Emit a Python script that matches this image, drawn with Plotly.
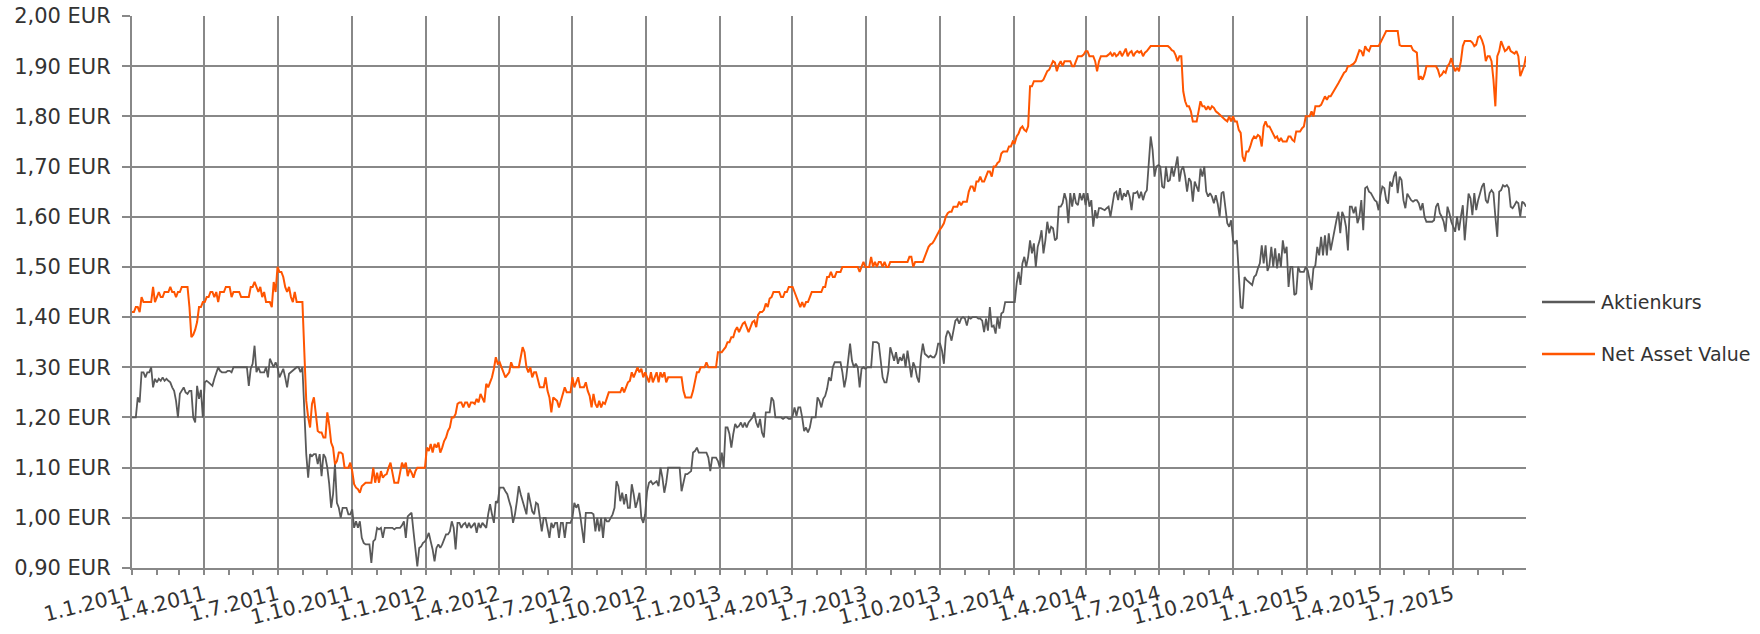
import pandas as pd
import plotly.graph_objects as go

start_date = "2011-01-01"
end_date = "2015-09-30"

# Net Asset Value (EUR) at an even time step
nav_2011_2012 = [
    1.41, 1.41, 1.42, 1.42, 1.41, 1.44, 1.43, 1.43, 1.43, 1.43, 1.43, 1.46, 1.43, 1.44, 1.45, 1.44, 1.44, 1.45, 1.45, 1.45,
    1.46, 1.45, 1.45, 1.44, 1.45, 1.45, 1.46, 1.46, 1.46, 1.46,
    1.42, 1.36, 1.365, 1.375, 1.39, 1.42, 1.42, 1.43, 1.43, 1.44,
    1.44, 1.45, 1.45, 1.44, 1.45, 1.43, 1.45, 1.45, 1.45, 1.46,
    1.46, 1.46, 1.44, 1.45, 1.45, 1.45, 1.45, 1.44, 1.44, 1.44,
    1.44, 1.44, 1.46, 1.46, 1.47, 1.46, 1.45, 1.46, 1.44, 1.45,
    1.43, 1.43, 1.43, 1.42, 1.47, 1.45, 1.50, 1.49, 1.49, 1.48,
    1.46, 1.45, 1.46, 1.44, 1.43, 1.45, 1.43, 1.43, 1.43, 1.43,
    1.33, 1.233, 1.20, 1.18, 1.227, 1.24, 1.207, 1.173, 1.17, 1.17,
    1.16, 1.16, 1.21, 1.185, 1.15, 1.14, 1.107, 1.113, 1.13, 1.13,
    1.127, 1.10, 1.10, 1.10, 1.11, 1.093, 1.067, 1.06, 1.057, 1.05,
    1.063, 1.067, 1.07, 1.07, 1.07, 1.07, 1.10, 1.07, 1.09, 1.07,
    1.093, 1.08, 1.085, 1.087, 1.10, 1.11, 1.09, 1.07, 1.07, 1.07,
    1.09, 1.11, 1.10, 1.11, 1.083, 1.097, 1.09, 1.08, 1.093, 1.10,
    1.10, 1.10, 1.10, 1.10, 1.14, 1.133, 1.147, 1.13, 1.147, 1.14,
    1.15, 1.13, 1.14, 1.153, 1.16, 1.173, 1.18, 1.20, 1.20, 1.207,
    1.227, 1.23, 1.23, 1.22, 1.23, 1.23, 1.22, 1.23, 1.23, 1.227,
    1.237, 1.23, 1.247, 1.237, 1.23, 1.267, 1.26, 1.27, 1.28, 1.297,
    1.32, 1.307, 1.31, 1.30, 1.29, 1.28, 1.285, 1.29, 1.31, 1.30,
    1.30, 1.30, 1.30, 1.32, 1.34, 1.33, 1.30, 1.29, 1.30, 1.28,
    1.29, 1.29, 1.275, 1.26, 1.26, 1.26, 1.28, 1.253, 1.24, 1.21,
    1.24, 1.237, 1.233, 1.22, 1.233, 1.25, 1.26, 1.25, 1.25, 1.25,
    1.28, 1.26, 1.27, 1.28,
]
nav_2012_2014 = [
    1.26, 1.26, 1.26, 1.27, 1.253, 1.243, 1.22, 1.247, 1.227, 1.22,
    1.233, 1.22, 1.23, 1.227, 1.24, 1.25, 1.25, 1.25, 1.25, 1.25,
    1.25, 1.25, 1.26, 1.25, 1.26, 1.27, 1.273, 1.29, 1.28, 1.29,
    1.30, 1.29, 1.297, 1.28, 1.29, 1.28, 1.27, 1.29, 1.27, 1.28,
    1.29, 1.27, 1.29, 1.28, 1.29, 1.27, 1.28, 1.28, 1.28, 1.28,
    1.28, 1.28, 1.28, 1.28, 1.253, 1.24, 1.24, 1.24, 1.24, 1.253,
    1.27, 1.29, 1.29, 1.30, 1.30, 1.30, 1.31, 1.30, 1.30, 1.30,
    1.30, 1.30, 1.33, 1.33, 1.33, 1.335, 1.34, 1.35, 1.35, 1.36,
    1.36, 1.373, 1.38, 1.37, 1.38, 1.387, 1.39, 1.38, 1.37, 1.38,
    1.39, 1.393, 1.38, 1.405, 1.41, 1.41, 1.414, 1.427, 1.42, 1.437,
    1.44, 1.45, 1.45, 1.45, 1.45, 1.44, 1.44, 1.45, 1.45, 1.46,
    1.46, 1.46, 1.45, 1.44, 1.43, 1.42, 1.43, 1.42, 1.43, 1.43,
    1.44, 1.45, 1.45, 1.45, 1.45, 1.45, 1.45, 1.46, 1.46, 1.48,
    1.48, 1.49, 1.48, 1.48, 1.49, 1.49, 1.49, 1.50, 1.50, 1.50,
    1.50, 1.50, 1.50, 1.50, 1.50, 1.50, 1.49, 1.50, 1.51, 1.50,
    1.50, 1.50, 1.52, 1.50, 1.51, 1.50, 1.51, 1.51, 1.50, 1.51,
    1.50, 1.50, 1.51, 1.51, 1.51, 1.51, 1.51, 1.51, 1.51, 1.51,
    1.51, 1.51, 1.52, 1.52, 1.50, 1.51, 1.51, 1.51, 1.51, 1.51,
    1.52, 1.53, 1.54, 1.545, 1.547, 1.553, 1.56, 1.57, 1.575, 1.58,
    1.587, 1.60, 1.607, 1.61, 1.61, 1.62, 1.62, 1.62, 1.63, 1.623,
    1.63, 1.63, 1.63, 1.65, 1.66, 1.66, 1.65, 1.67, 1.67, 1.68,
    1.67, 1.67, 1.68, 1.69, 1.69, 1.68, 1.70, 1.70, 1.707, 1.71,
    1.726, 1.73, 1.73, 1.73, 1.74, 1.74, 1.75, 1.747, 1.76, 1.766,
    1.776, 1.78, 1.773, 1.77, 1.78, 1.86, 1.86, 1.87, 1.87, 1.87,
    1.87, 1.87, 1.873, 1.88, 1.89, 1.893, 1.90, 1.91, 1.907, 1.89,
    1.903, 1.91, 1.90, 1.91, 1.91, 1.91, 1.91, 1.90, 1.90, 1.91,
    1.92, 1.92, 1.92, 1.923, 1.93, 1.93, 1.92, 1.92, 1.92, 1.91,
    1.89, 1.91, 1.92, 1.92, 1.92, 1.92, 1.923, 1.927, 1.92, 1.927,
    1.92, 1.923, 1.93, 1.92, 1.927, 1.935, 1.92, 1.927, 1.93, 1.92,
    1.927, 1.93, 1.927, 1.93, 1.92, 1.927, 1.93, 1.935, 1.94, 1.94,
    1.94, 1.94, 1.94,
]
nav_2014_2015 = [
    1.94, 1.94, 1.94, 1.94, 1.94, 1.937, 1.932, 1.93, 1.922, 1.91,
    1.92, 1.92, 1.85, 1.83, 1.82, 1.82, 1.81, 1.79, 1.79, 1.79,
    1.81, 1.83, 1.82, 1.82, 1.813, 1.82, 1.813, 1.82, 1.817, 1.81,
    1.807, 1.803, 1.80, 1.797, 1.793, 1.79, 1.80, 1.79, 1.80, 1.79,
    1.79, 1.773, 1.767, 1.72, 1.71, 1.73, 1.73, 1.74, 1.753, 1.76,
    1.757, 1.763, 1.76, 1.74, 1.78, 1.79, 1.78, 1.78, 1.773, 1.767,
    1.757, 1.76, 1.75, 1.757, 1.75, 1.75, 1.75, 1.76, 1.76, 1.753,
    1.75, 1.77, 1.77, 1.77, 1.776, 1.78, 1.80, 1.80, 1.80, 1.81,
    1.80, 1.82, 1.82, 1.82, 1.823, 1.83, 1.84, 1.833, 1.84, 1.84,
    1.846, 1.853, 1.86, 1.866, 1.873, 1.88, 1.887, 1.89, 1.90, 1.90,
    1.903, 1.905, 1.91, 1.92, 1.932, 1.93, 1.92, 1.94, 1.933, 1.93,
    1.94, 1.94, 1.94, 1.94, 1.94, 1.947, 1.955, 1.96, 1.97, 1.97,
    1.97, 1.97, 1.97, 1.97, 1.97, 1.942, 1.94, 1.94, 1.94, 1.94,
    1.94, 1.94, 1.932, 1.93, 1.927, 1.873, 1.88, 1.873, 1.883, 1.90,
    1.90, 1.90, 1.90, 1.90, 1.90, 1.893, 1.88, 1.883, 1.89, 1.887,
    1.90, 1.905, 1.916, 1.90, 1.89, 1.897, 1.89, 1.91, 1.94, 1.95,
    1.95, 1.95, 1.95, 1.947, 1.94, 1.943, 1.958, 1.96, 1.952, 1.94,
    1.91, 1.92, 1.92, 1.91, 1.873, 1.82, 1.92, 1.93, 1.95, 1.94,
    1.93, 1.933, 1.94, 1.93, 1.927, 1.925, 1.93, 1.92, 1.88, 1.89,
    1.90, 1.92,
]

# Aktienkurs (EUR), same time step
kurs_2011_2012 = [
    1.20, 1.20, 1.20, 1.24, 1.23, 1.29, 1.29, 1.28, 1.29, 1.29,
    1.30, 1.26, 1.277, 1.27, 1.277, 1.273, 1.28, 1.273, 1.277, 1.273,
    1.27, 1.26, 1.253, 1.233, 1.20, 1.247, 1.253, 1.26, 1.25, 1.247,
    1.253, 1.253, 1.20, 1.19, 1.263, 1.237, 1.255, 1.20, 1.27, 1.273,
    1.27, 1.267, 1.263, 1.277, 1.29, 1.30, 1.293, 1.29, 1.29, 1.29,
    1.293, 1.293, 1.29, 1.30, 1.30, 1.30, 1.30, 1.30, 1.30, 1.30,
    1.30, 1.263, 1.297, 1.307, 1.343, 1.29, 1.30, 1.29, 1.29, 1.29,
    1.30, 1.28, 1.317, 1.31, 1.30, 1.31, 1.30, 1.28, 1.29, 1.297,
    1.28, 1.26, 1.287, 1.29, 1.293, 1.297, 1.30, 1.30, 1.29, 1.30,
    1.213, 1.127, 1.08, 1.127, 1.123, 1.127, 1.127, 1.107, 1.127, 1.083,
    1.127, 1.12, 1.10, 1.067, 1.02, 1.047, 1.107, 1.03, 1.02, 1.00,
    1.02, 1.02, 1.02, 1.007, 1.007, 1.017, 0.98, 0.993, 0.98, 0.993,
    0.96, 0.95, 0.947, 0.947, 0.947, 0.91, 0.953, 0.957, 0.98, 0.977,
    0.98, 0.96, 0.98, 0.98, 0.98, 0.98, 0.98, 0.977, 0.98, 0.98,
    0.98, 0.985, 0.993, 0.96, 1.003, 1.007, 1.01, 0.973, 0.94, 0.903,
    0.94, 0.943, 0.95, 0.953, 0.96, 0.97, 0.953, 0.937, 0.913, 0.94,
    0.947, 0.94, 0.947, 0.957, 0.967, 0.967, 0.973, 0.993, 0.98, 0.937,
    0.99, 0.99, 0.98, 0.987, 0.99, 0.98, 0.99, 0.98, 0.985, 0.99,
    0.97, 0.99, 0.98, 0.99, 0.985, 0.98, 1.007, 1.027, 1.007, 0.99,
    1.033, 1.03, 1.06, 1.06, 1.06, 1.053, 1.047, 1.033, 1.02, 0.99,
    1.007, 1.033, 1.063, 1.047, 1.033, 1.02, 1.007, 1.05, 1.03, 1.013,
    1.007, 1.03, 1.027, 1.00, 0.973, 1.00, 1.00, 0.98, 0.96, 0.99,
    0.98, 0.99, 0.99, 0.96, 0.99, 0.99, 0.96, 0.99, 0.99, 0.99,
    1.00, 1.03, 1.02, 1.027,
]
kurs_2012_2014 = [
    1.007, 0.98, 0.95, 1.01, 1.01, 1.01, 1.01, 1.007, 0.973, 1.00,
    0.973, 1.00, 0.96, 1.00, 0.993, 0.993, 1.00, 1.007, 1.02, 1.073,
    1.063, 1.033, 1.05, 1.027, 1.047, 1.02, 1.02, 1.067, 1.047, 1.02,
    1.033, 1.05, 1.00, 0.99, 1.007, 1.053, 1.07, 1.073, 1.067, 1.07,
    1.073, 1.063, 1.10, 1.08, 1.05, 1.07, 1.10, 1.10, 1.10, 1.10,
    1.10, 1.10, 1.10, 1.053, 1.073, 1.087, 1.087, 1.09, 1.093, 1.13,
    1.133, 1.14, 1.13, 1.13, 1.13, 1.13, 1.13, 1.12, 1.093, 1.12,
    1.12, 1.12, 1.113, 1.10, 1.13, 1.10, 1.18, 1.18, 1.167, 1.14,
    1.167, 1.187, 1.18, 1.183, 1.19, 1.18, 1.19, 1.18, 1.19, 1.195,
    1.20, 1.21, 1.19, 1.18, 1.197, 1.17, 1.16, 1.21, 1.21, 1.21,
    1.24, 1.233, 1.20, 1.20, 1.20, 1.20, 1.197, 1.20, 1.20, 1.197,
    1.197, 1.203, 1.22, 1.203, 1.22, 1.22, 1.20, 1.173, 1.18, 1.17,
    1.18, 1.20, 1.20, 1.20, 1.24, 1.233, 1.22, 1.237, 1.243, 1.257,
    1.28, 1.273, 1.30, 1.31, 1.31, 1.31, 1.31, 1.29, 1.26, 1.28,
    1.31, 1.347, 1.313, 1.30, 1.307, 1.30, 1.26, 1.297, 1.30, 1.297,
    1.30, 1.30, 1.30, 1.35, 1.35, 1.35, 1.347, 1.31, 1.28, 1.27,
    1.27, 1.293, 1.34, 1.327, 1.313, 1.33, 1.307, 1.32, 1.313, 1.327,
    1.30, 1.333, 1.31, 1.28, 1.31, 1.30, 1.28, 1.27, 1.32, 1.347,
    1.327, 1.323, 1.32, 1.323, 1.32, 1.32, 1.327, 1.347, 1.347, 1.333,
    1.307, 1.36, 1.373, 1.367, 1.353, 1.373, 1.393, 1.397, 1.387, 1.397,
    1.40, 1.397, 1.383, 1.40, 1.397, 1.40, 1.40, 1.40, 1.397, 1.397,
    1.393, 1.37, 1.397, 1.373, 1.42, 1.38, 1.383, 1.367, 1.40, 1.377,
    1.407, 1.41, 1.43, 1.43, 1.43, 1.43, 1.43, 1.43, 1.467, 1.49,
    1.464, 1.507, 1.52, 1.50, 1.52, 1.553, 1.527, 1.547, 1.50, 1.54,
    1.553, 1.573, 1.527, 1.553, 1.59, 1.567, 1.58, 1.577, 1.553, 1.557,
    1.62, 1.62, 1.627, 1.647, 1.633, 1.587, 1.647, 1.62, 1.647, 1.627,
    1.623, 1.647, 1.633, 1.647, 1.623, 1.647, 1.62, 1.633, 1.58, 1.613,
    1.597, 1.617, 1.617, 1.615, 1.613, 1.617, 1.62, 1.60, 1.627, 1.647,
    1.65, 1.633, 1.657, 1.633, 1.647, 1.64, 1.653, 1.64, 1.613, 1.647,
    1.647, 1.65, 1.637, 1.65, 1.633, 1.647, 1.653, 1.70, 1.76, 1.733,
    1.68, 1.70, 1.703,
]
kurs_2014_2015 = [
    1.70, 1.66, 1.657, 1.70, 1.67, 1.673, 1.70, 1.68, 1.70, 1.72,
    1.67, 1.693, 1.70, 1.68, 1.65, 1.677, 1.67, 1.63, 1.67, 1.66,
    1.65, 1.696, 1.68, 1.70, 1.65, 1.64, 1.647, 1.64, 1.627, 1.643,
    1.626, 1.60, 1.647, 1.65, 1.62, 1.587, 1.58, 1.593, 1.553, 1.547,
    1.553, 1.487, 1.42, 1.417, 1.48, 1.474, 1.47, 1.467, 1.464, 1.48,
    1.484, 1.497, 1.507, 1.543, 1.507, 1.543, 1.492, 1.503, 1.54, 1.50,
    1.537, 1.497, 1.527, 1.50, 1.553, 1.527, 1.54, 1.46, 1.50, 1.50,
    1.444, 1.447, 1.50, 1.49, 1.49, 1.49, 1.50, 1.493, 1.474, 1.454,
    1.497, 1.503, 1.54, 1.523, 1.56, 1.523, 1.563, 1.523, 1.567, 1.533,
    1.553, 1.577, 1.593, 1.61, 1.567, 1.61, 1.60, 1.58, 1.533, 1.62,
    1.62, 1.607, 1.62, 1.587, 1.60, 1.633, 1.573, 1.657, 1.66, 1.65,
    1.647, 1.64, 1.633, 1.63, 1.613, 1.643, 1.66, 1.657, 1.633, 1.626,
    1.67, 1.66, 1.68, 1.69, 1.647, 1.68, 1.673, 1.633, 1.617, 1.646,
    1.64, 1.633, 1.63, 1.633, 1.633, 1.627, 1.613, 1.627, 1.60, 1.59,
    1.59, 1.59, 1.59, 1.593, 1.62, 1.627, 1.607, 1.60, 1.59, 1.57,
    1.62, 1.607, 1.59, 1.58, 1.57, 1.60, 1.573, 1.60, 1.623, 1.553,
    1.607, 1.646, 1.637, 1.603, 1.647, 1.613, 1.633, 1.647, 1.66, 1.667,
    1.633, 1.627, 1.647, 1.653, 1.647, 1.60, 1.56, 1.65, 1.653, 1.663,
    1.66, 1.663, 1.657, 1.62, 1.617, 1.623, 1.63, 1.627, 1.60, 1.63,
    1.627, 1.62,
]

tick_dates = [
    "2011-01-01", "2011-04-01", "2011-07-01", "2011-10-01",
    "2012-01-01", "2012-04-01", "2012-07-01", "2012-10-01",
    "2013-01-01", "2013-04-01", "2013-07-01", "2013-10-01",
    "2014-01-01", "2014-04-01", "2014-07-01", "2014-10-01",
    "2015-01-01", "2015-04-01", "2015-07-01",
]
tick_labels = [
    "1.1.2011", "1.4.2011", "1.7.2011", "1.10.2011",
    "1.1.2012", "1.4.2012", "1.7.2012", "1.10.2012",
    "1.1.2013", "1.4.2013", "1.7.2013", "1.10.2013",
    "1.1.2014", "1.4.2014", "1.7.2014", "1.10.2014",
    "1.1.2015", "1.4.2015", "1.7.2015",
]
y_ticks = [0.9, 1.0, 1.1, 1.2, 1.3, 1.4, 1.5, 1.6, 1.7, 1.8, 1.9, 2.0]
y_labels = ["0,90 EUR", "1,00 EUR", "1,10 EUR", "1,20 EUR", "1,30 EUR", "1,40 EUR",
            "1,50 EUR", "1,60 EUR", "1,70 EUR", "1,80 EUR", "1,90 EUR", "2,00 EUR"]

series_names = ["Aktienkurs", "Net Asset Value"]
series_colors = ["#595959", "#FF5500"]

nav = nav_2011_2012 + nav_2012_2014 + nav_2014_2015
kurs = kurs_2011_2012 + kurs_2012_2014 + kurs_2014_2015
dates_nav = pd.date_range(start_date, end_date, periods=len(nav))
dates_kurs = pd.date_range(start_date, end_date, periods=len(kurs))

GRID = "#888888"
TEXT = "#333333"
FONT = "DejaVu Sans"

fig = go.Figure()
fig.add_trace(go.Scatter(x=dates_kurs, y=kurs, mode="lines", name=series_names[0],
                         line=dict(color=series_colors[0], width=1.8), showlegend=False))
fig.add_trace(go.Scatter(x=dates_nav, y=nav, mode="lines", name=series_names[1],
                         line=dict(color=series_colors[1], width=2), showlegend=False))

W, H = 1760, 634
ML, MR, MT, MB = 132, 234, 16, 66
pw, ph = W - ML - MR, H - MT - MB

fig.update_layout(
    width=W, height=H,
    margin=dict(l=ML, r=MR, t=MT, b=MB, pad=0),
    paper_bgcolor="white", plot_bgcolor="white",
    font=dict(family=FONT, size=21, color=TEXT),
    xaxis=dict(
        type="date", range=[start_date, end_date], automargin=False,
        tickmode="array", tickvals=tick_dates, ticktext=tick_labels, tickangle=-14,
        tickfont=dict(family=FONT, size=20.5, color=TEXT), ticklabelstandoff=0,
        showgrid=True, gridcolor=GRID, gridwidth=2,
        ticks="outside", ticklen=5, tickwidth=2, tickcolor=GRID,
        showline=True, linecolor=GRID, linewidth=2,
        minor=dict(dtick="M1", tick0="2011-01-01", ticks="outside", ticklen=5,
                   tickwidth=2, tickcolor=GRID, showgrid=False),
        zeroline=False, fixedrange=True,
    ),
    yaxis=dict(
        range=[0.9, 2.0], tickmode="array", tickvals=y_ticks, ticktext=y_labels, automargin=False,
        tickfont=dict(family=FONT, size=21, color=TEXT), ticklabelstandoff=7,
        showgrid=True, gridcolor=GRID, gridwidth=2,
        ticks="outside", ticklen=8, tickwidth=2, tickcolor=GRID,
        showline=True, linecolor=GRID, linewidth=2,
        zeroline=False, fixedrange=True,
    ),
)

# Legend drawn to the right of the plot, matching the reference's long line keys
legend_rows_px = [302, 354]
for name, color, py in zip(series_names, series_colors, legend_rows_px):
    yp = (H - MB - py) / ph
    fig.add_shape(type="line", xref="paper", yref="paper",
                  x0=(1542 - ML) / pw, x1=(1595 - ML) / pw, y0=yp, y1=yp,
                  line=dict(color=color, width=2.5))
    fig.add_annotation(text=name, xref="paper", yref="paper",
                       x=(1599 - ML) / pw, y=yp, xanchor="left", yanchor="middle",
                       showarrow=False, font=dict(family=FONT, size=19, color=TEXT))

fig.write_html("out.html", config={"displayModeBar": False},
               post_script="document.body.style.margin='0px';")
